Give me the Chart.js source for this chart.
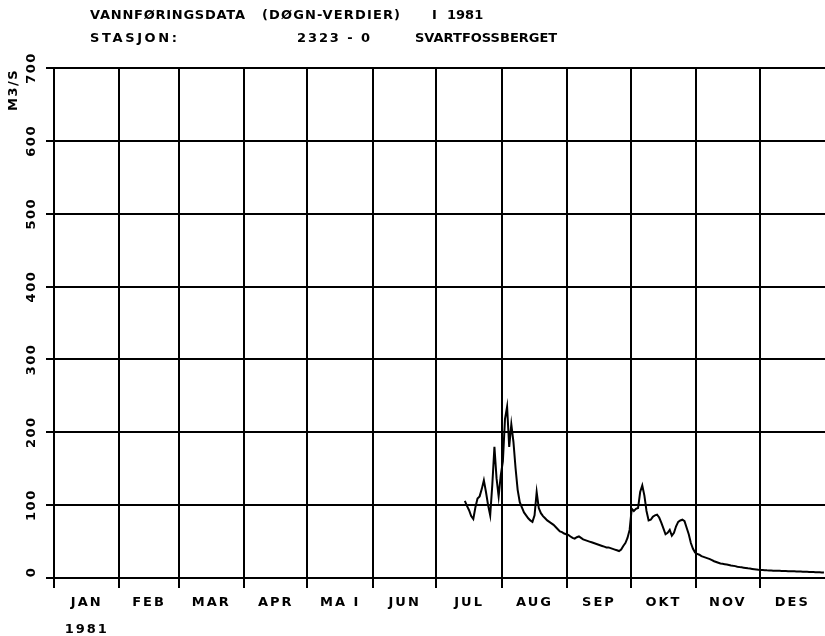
<!DOCTYPE html>
<html>
<head>
<meta charset="utf-8">
<title>Vannføringsdata 1981 – Svartfossberget</title>
<script src="https://cdn.jsdelivr.net/npm/chart.js@4/dist/chart.umd.min.js"></script>
<style>
  html, body { margin: 0; padding: 0; background: #fff; }
  canvas { display: block; }
</style>
</head>
<body>
<canvas id="chart" width="825" height="636"></canvas>
<script>
// Daily discharge (m3/s), station 2323-0 Svartfossberget, 1981.
// Record starts on 14 July.
const monthNames = ['JAN', 'FEB', 'MAR', 'APR', 'MA I', 'JUN', 'JUL', 'AUG', 'SEP', 'OKT', 'NOV', 'DES'];
const monthLengths = [31, 28, 31, 30, 31, 30, 31, 31, 30, 31, 30, 31];
const yTickValues = [0, 100, 200, 300, 400, 500, 600, 700];
const yearLabel = '1981';
const unitLabel = 'M3/S';
const titleLine1 = ['VANNFØRINGSDATA', '(DØGN-VERDIER)', 'I', '1981'];
const titleLine2 = ['STASJON:', '2323 - 0', 'SVARTFOSSBERGET'];

const julFirstDay = 14;
const julValues = [106, 99, 93, 85, 81, 97, 109, 112, 122, 134, 118, 100, 86, 128, 180, 137, 112, 141];
const augValues = [160, 218, 235, 180, 211, 187, 151, 121, 104, 97, 90, 86, 82, 79, 77, 86, 118, 96, 89, 85,
                   82, 79, 77, 75, 73, 70, 67, 64, 63, 61, 60];
const sepValues = [59, 57, 55, 54, 56, 57, 55, 53, 52, 51, 50, 49, 48, 47, 46, 45, 44, 43, 42, 42,
                   41, 40, 39, 38, 37, 39, 44, 48, 55, 66];
const oktValues = [95, 92, 95, 96, 118, 127, 113, 92, 79, 80, 84, 86, 87, 83, 76, 68, 60, 62, 66, 58,
                   62, 71, 77, 79, 80, 78, 69, 60, 48, 40, 35];
const novValues = [33, 32, 30, 29, 28, 27, 26, 24.5, 23, 22, 21, 20, 19.5, 19, 18.4, 17.8, 17.2, 16.7, 16.3, 15.5,
                   15.0, 14.6, 14.2, 13.8, 13.3, 12.9, 12.5, 12.1, 11.7, 11.3];
const desValues = [11.1, 10.9, 10.7, 10.5, 10.4, 10.3, 10.1, 10.0, 9.9, 9.8, 9.7, 9.6, 9.5, 9.4, 9.3, 9.2,
                   9.1, 9.0, 8.9, 8.8, 8.7, 8.6, 8.5, 8.4, 8.3, 8.2, 8.0, 7.9, 7.8, 7.7, 7.6];

// Day-of-year offsets for the first day of each month (Jan 1 = 0)
const monthStarts = [];
{
  let acc = 0;
  for (const len of monthLengths) { monthStarts.push(acc); acc += len; }
}

// Build {x: day, y: value} points; each value sits in the middle of its day
function monthPoints(monthIndex, values, firstDay = 1) {
  return values.map((v, i) => ({ x: monthStarts[monthIndex] + (firstDay - 1) + i + 0.5, y: v }));
}
const points = [
  ...monthPoints(6, julValues, julFirstDay),
  ...monthPoints(7, augValues),
  ...monthPoints(8, sepValues),
  ...monthPoints(9, oktValues),
  ...monthPoints(10, novValues),
  ...monthPoints(11, desValues)
];

const FONT = 'bold 13px "DejaVu Sans", sans-serif';

function drawSpaced(ctx, text, x, y, spacing) {
  if ('letterSpacing' in ctx) {
    ctx.letterSpacing = spacing + 'px';
    ctx.fillText(text, x, y);
    ctx.letterSpacing = '0px';
  } else {
    ctx.fillText(text, x, y);
  }
}

// Left-aligned text stretched by letter spacing to end near x1
function drawFitted(ctx, text, x0, x1, y) {
  const w = ctx.measureText(text).width;
  const n = Math.max(text.length - 1, 1);
  const spacing = Math.max(0, Math.min(4, (x1 - x0 - w) / n));
  drawSpaced(ctx, text, x0, y, spacing);
}

// Plotter-style labels: rotated y values, centred month names, headings
const plotterLabels = {
  id: 'plotterLabels',
  afterDraw(chart) {
    const { ctx, scales: { x, y } } = chart;
    ctx.save();
    ctx.fillStyle = '#000';
    ctx.font = FONT;

    // y-axis values, reading bottom to top
    ctx.textAlign = 'center';
    ctx.textBaseline = 'middle';
    for (const v of yTickValues) {
      const py = y.getPixelForValue(v);
      ctx.save();
      ctx.translate(32, py - (v === 0 ? 6 : 0));
      ctx.rotate(-Math.PI / 2);
      drawSpaced(ctx, String(v), 0, 0, 1.5);
      ctx.restore();
    }
    // unit
    ctx.save();
    ctx.translate(14, 90);
    ctx.rotate(-Math.PI / 2);
    drawSpaced(ctx, unitLabel, 0, 0, 1.5);
    ctx.restore();

    // month names centred in each month
    monthNames.forEach((name, i) => {
      const mid = monthStarts[i] + monthLengths[i] / 2;
      drawSpaced(ctx, name, x.getPixelForValue(mid), 603, 2);
    });
    drawSpaced(ctx, yearLabel, x.getPixelForValue(monthLengths[0] / 2), 630, 2);

    // headings
    ctx.textAlign = 'left';
    const l1 = [[90, 245], [262, 400], [432, 437], [447, 480]];
    titleLine1.forEach((t, i) => drawFitted(ctx, t, l1[i][0], l1[i][1], 16));
    const l2 = [[90, 177], [297, 370], [415, 552]];
    titleLine2.forEach((t, i) => drawFitted(ctx, t, l2[i][0], l2[i][1], 39));
    ctx.restore();
  }
};

new Chart(document.getElementById('chart'), {
  type: 'line',
  data: {
    datasets: [{
      data: points,
      borderColor: '#000',
      borderWidth: 2,
      pointRadius: 0,
      tension: 0,
      fill: false
    }]
  },
  options: {
    responsive: false,
    animation: false,
    devicePixelRatio: 1,
    layout: { padding: { top: 68, right: 0, bottom: 0, left: 0 } },
    plugins: {
      legend: { display: false },
      tooltip: { enabled: false },
      title: { display: false }
    },
    scales: {
      x: {
        type: 'linear',
        min: 0,
        max: 365,
        afterBuildTicks: (s) => { s.ticks = monthStarts.map(v => ({ value: v })); },
        afterFit: (s) => { s.height = 58; },
        ticks: { display: false },
        grid: { color: '#000', lineWidth: 2, drawTicks: true, tickLength: 10 },
        border: { display: true, color: '#000', width: 2 }
      },
      y: {
        min: 0,
        max: 700,
        afterBuildTicks: (s) => { s.ticks = yTickValues.map(v => ({ value: v })); },
        afterFit: (s) => { s.width = 54; },
        ticks: { display: false },
        grid: { color: '#000', lineWidth: 2, drawTicks: true, tickLength: 8 },
        border: { display: true, color: '#000', width: 2 }
      }
    }
  },
  plugins: [plotterLabels]
});
</script>
</body>
</html>
